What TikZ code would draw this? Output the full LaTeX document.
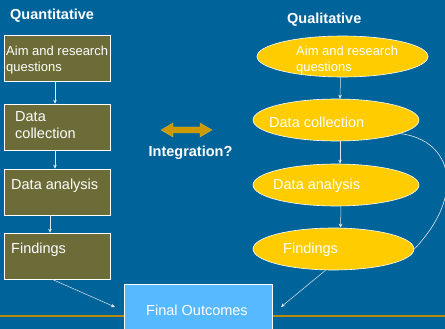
\documentclass[tikz,border=0pt]{standalone}
\usepackage{fontspec}
\setmainfont{Liberation Sans}
\usetikzlibrary{shapes.geometric,arrows.meta}
\definecolor{bgblue}{RGB}{0,99,153}
\definecolor{olive}{RGB}{108,108,56}
\definecolor{qualyellow}{RGB}{255,204,0}
\definecolor{outcomeblue}{RGB}{87,185,255}
\definecolor{goldline}{RGB}{184,140,10}
\definecolor{goldarrow}{RGB}{204,153,0}
\definecolor{linkgray}{RGB}{225,232,240}
\tikzset{
  qbox/.style={draw=white, line width=0.6pt, fill=olive, rectangle, inner sep=0pt,
    minimum width=106pt, minimum height=46pt},
  qellipse/.style={draw=white, line width=0.6pt, fill=qualyellow, ellipse, inner sep=0pt},
  boxtext/.style={text=white, font=\fontsize{14.5}{17}\selectfont, align=left, inner sep=0pt, anchor=west},
  smalltext/.style={text=white, font=\fontsize{13}{16}\selectfont, align=left, inner sep=0pt, anchor=west},
  headtext/.style={text=white, font=\bfseries\fontsize{14.5}{17}\selectfont, inner sep=0pt},
  link/.style={draw=linkgray, line width=0.5pt, -{Stealth[length=4pt,width=3.5pt]}},
  plainlink/.style={draw=linkgray, line width=0.6pt}
}
\begin{document}
\begin{tikzpicture}[x=1pt,y=-1pt]
  % background and baseline rule
  \fill[bgblue] (0,0) rectangle (445,329);
  \useasboundingbox (0,0) rectangle (445,329);
  \draw[goldline, line width=1.2pt] (0,316) -- (445,316);

  % column headings
  \node[headtext, anchor=west] (qtitle) at (10,16) {Quantitative};
  \node[headtext, anchor=west] (ltitle) at (287,20) {Qualitative};

  % quantitative boxes
  \node[qbox] (q1) at (57,58) {};
  \node[qbox] (q2) at (57,127) {};
  \node[qbox] (q3) at (57,192) {};
  \node[qbox] (q4) at (57,256) {};
  \node[smalltext] (q1t) at (6,60) {Aim and research\\questions};
  \node[boxtext] (q2t) at (15,125.5) {Data\\collection};
  \node[boxtext] (q3t) at (11,186) {Data analysis};
  \node[boxtext] (q4t) at (11,250) {Findings};

  % qualitative ellipses
  \node[qellipse, minimum width=171pt, minimum height=41pt] (r1) at (342.5,56.5) {};
  \node[qellipse, minimum width=166pt, minimum height=42pt] (r2) at (336,120) {};
  \node[qellipse, minimum width=166pt, minimum height=42pt] (r3) at (336,185) {};
  \node[qellipse, minimum width=161pt, minimum height=42pt] (r4) at (333.5,249) {};
  \node[smalltext] (r1t) at (296,60) {Aim and research\\questions};
  \node[boxtext] (r2t) at (269,122) {Data collection};
  \node[boxtext] (r3t) at (273,186) {Data analysis};
  \node[boxtext] (r4t) at (283,250) {Findings};

  % final outcomes
  \node[draw=white, line width=0.6pt, fill=outcomeblue, rectangle, inner sep=0pt,
    minimum width=148pt, minimum height=50pt, anchor=north west] (fo) at (124,284) {};
  \node[boxtext, anchor=center] (fot) at (197,310) {Final Outcomes};

  % integration marker
  \fill[goldarrow, draw=goldarrow!70!white, line width=0.3pt]
    (161,130) -- (173,123) -- (173,127) -- (200,127) -- (200,123) -- (212,130)
    -- (200,137) -- (200,133) -- (173,133) -- (173,137) -- cycle;
  \node[headtext] (integ) at (190.5,153) {Integration?};

  % quantitative flow
  \draw[link] ([xshift=-2pt]q1.south) -- ([xshift=-2pt]q2.north);
  \draw[link] ([xshift=-2pt]q2.south) -- ([xshift=-2pt]q3.north);
  \draw[link] ([xshift=-7pt]q3.south) -- ([xshift=-7pt]q4.north);
  \coordinate (foL) at (115,307);
  \draw[link] ([xshift=-5pt]q4.south) -- (foL);

  % qualitative flow
  \draw[link] ([xshift=-2pt]r1.south) -- ([xshift=4pt]r2.north);
  \draw[link] ([xshift=4pt]r2.south) -- ([xshift=4pt]r3.north);
  \draw[link] ([xshift=5pt]r3.south) -- ([xshift=7pt]r4.north);
  \coordinate (foR) at (281,307);
  \draw[link] ([xshift=-8pt]r4.south) -- (foR);

  % feedback loop on the qualitative side
  \draw[plainlink] (r2.-12) .. controls (453,140) and (466,195) .. (r4.east);
\end{tikzpicture}
\end{document}
